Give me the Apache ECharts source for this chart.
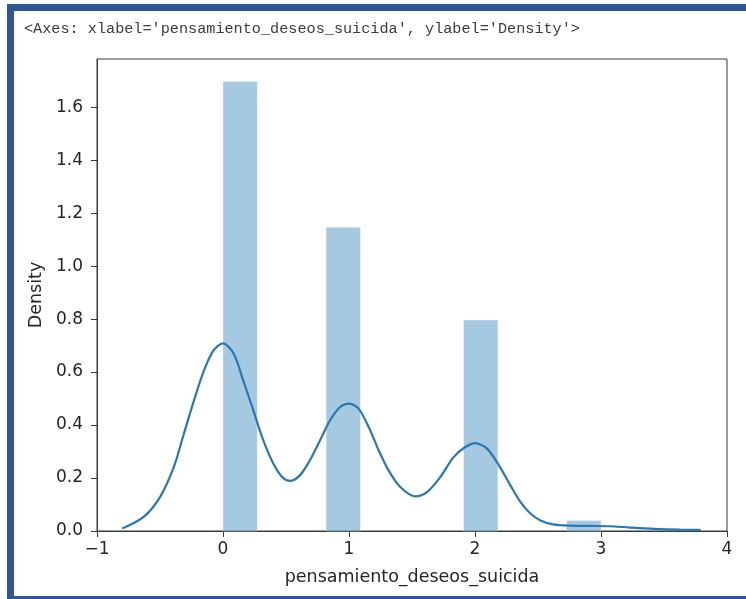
<!DOCTYPE html>
<html>
<head>
<meta charset="utf-8">
<script src="https://cdn.jsdelivr.net/npm/echarts@6/dist/echarts.min.js"></script>
<style>
html,body{margin:0;padding:0;background:#fff;}
#chart{width:746px;height:599px;}
</style>
</head>
<body>
<div id="chart"></div>
<script>
// Histogram bins (density)
var binLeft = [0, 0.8182, 1.9091, 2.7273];
var binRight = [0.2727, 1.0909, 2.1818, 3.0];
var binDensity = [1.697, 1.147, 0.797, 0.040];

// KDE curve
var kdeX = [-0.80, -0.63, -0.50, -0.39, -0.31, -0.23, -0.15, -0.075, 0, 0.084, 0.16, 0.24, 0.32, 0.40, 0.47, 0.53, 0.61, 0.69, 0.77, 0.85, 0.93, 1.0, 1.076, 1.156, 1.235, 1.314, 1.407, 1.526, 1.619, 1.725, 1.83, 1.923, 2.0, 2.095, 2.19, 2.28, 2.36, 2.44, 2.52, 2.62, 2.76, 2.92, 3.07, 3.23, 3.42, 3.63, 3.79];
var kdeY = [0.009, 0.053, 0.128, 0.242, 0.368, 0.493, 0.607, 0.682, 0.708, 0.670, 0.569, 0.456, 0.342, 0.254, 0.204, 0.189, 0.210, 0.267, 0.342, 0.418, 0.468, 0.481, 0.462, 0.393, 0.305, 0.229, 0.166, 0.131, 0.147, 0.204, 0.279, 0.317, 0.332, 0.311, 0.248, 0.173, 0.110, 0.066, 0.040, 0.025, 0.020, 0.019, 0.018, 0.013, 0.008, 0.005, 0.004];

var xTicks = [-1, 0, 1, 2, 3, 4];
var yTicks = [0, 0.2, 0.4, 0.6, 0.8, 1.0, 1.2, 1.4, 1.6];

var titleText = "<Axes: xlabel='pensamiento_deseos_suicida', ylabel='Density'>";
var xName = 'pensamiento_deseos_suicida';
var yName = 'Density';

var histData = binLeft.map(function (l, i) { return [l, binRight[i], binDensity[i]]; });
var kdeData = kdeX.map(function (x, i) { return [x, kdeY[i]]; });

var chart = echarts.init(document.getElementById('chart'), null, {renderer: 'canvas'});
var textColor = '#262626';
var axisColor = '#3a3a3a';
var frameBlue = '#2f5597';
var fontFam = '"DejaVu Sans", sans-serif';

chart.setOption({
  animation: false,
  backgroundColor: '#ffffff',
  graphic: [
    {type: 'rect', left: 7, top: 4, shape: {width: 7, height: 595}, style: {fill: frameBlue}, z: 100},
    {type: 'rect', left: 7, top: 4, shape: {width: 739, height: 7}, style: {fill: frameBlue}, z: 100},
    {type: 'rect', left: 7, top: 596, shape: {width: 739, height: 3}, style: {fill: frameBlue}, z: 100},
    {type: 'text', left: 24, top: 21, style: {text: titleText, font: '15.2px "Liberation Mono", "DejaVu Sans Mono", monospace', fill: '#3c3c3c'}, z: 100}
  ],
  grid: {left: 97, right: 19, top: 59, bottom: 68, show: true, borderColor: axisColor, borderWidth: 1, backgroundColor: 'transparent'},
  xAxis: {
    type: 'value', min: -1, max: 4, interval: 1,
    name: xName, nameLocation: 'middle', nameGap: 37,
    nameTextStyle: {fontFamily: fontFam, fontSize: 17.5, color: textColor},
    axisLine: {show: true, onZero: false, lineStyle: {color: axisColor, width: 1}},
    axisTick: {show: true, length: 6, lineStyle: {color: axisColor}, customValues: xTicks},
    axisLabel: {fontFamily: fontFam, fontSize: 17, color: textColor, margin: 10,
      customValues: xTicks,
      formatter: function (v) { return v < 0 ? '\u2212' + Math.abs(v) : String(v); }},
    splitLine: {show: false}
  },
  yAxis: {
    type: 'value', min: 0, max: 1.782,
    name: yName, nameLocation: 'middle', nameGap: 50, nameRotate: 90,
    nameTextStyle: {fontFamily: fontFam, fontSize: 17.5, color: textColor},
    axisLine: {show: true, onZero: false, lineStyle: {color: axisColor, width: 1}},
    axisTick: {show: true, length: 6, lineStyle: {color: axisColor}, customValues: yTicks},
    axisLabel: {fontFamily: fontFam, fontSize: 17, color: textColor, margin: 14,
      customValues: yTicks,
      formatter: function (v) { return v.toFixed(1); }},
    splitLine: {show: false}
  },
  series: [
    {
      type: 'custom',
      data: histData,
      encode: {x: [0, 1], y: 2},
      renderItem: function (params, api) {
        var p0 = api.coord([api.value(0), api.value(2)]);
        var p1 = api.coord([api.value(1), 0]);
        return {
          type: 'rect',
          shape: {x: p0[0], y: p0[1], width: p1[0] - p0[0], height: p1[1] - p0[1]},
          style: {fill: 'rgba(31,119,180,0.4)', stroke: 'rgba(255,255,255,0.35)', lineWidth: 1}
        };
      },
      z: 2
    },
    {
      type: 'line',
      data: kdeData,
      smooth: 0.3,
      showSymbol: false,
      lineStyle: {color: '#2878b5', width: 2.2},
      z: 3
    }
  ]
});
</script>
</body>
</html>
